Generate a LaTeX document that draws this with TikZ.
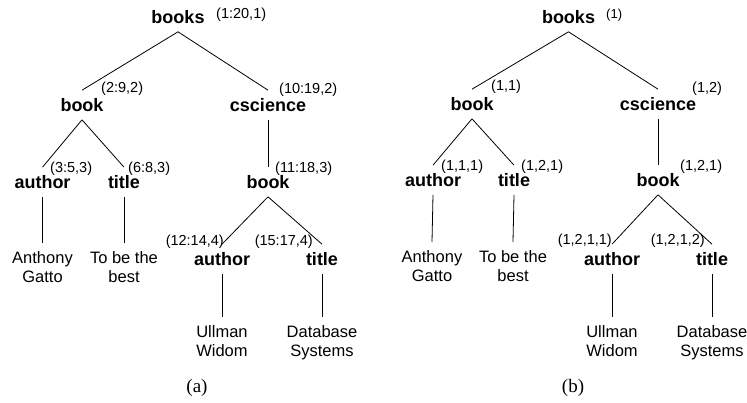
\documentclass[tikz,border=0pt]{standalone}
\usepackage{fontspec}
\setmainfont{Liberation Sans}
\newfontfamily\capfont{Liberation Serif}
\usetikzlibrary{positioning}

\tikzset{
  tag/.style={font=\fontsize{18}{21}\selectfont\bfseries, inner xsep=0pt, inner ysep=8pt},
  idx/.style={font=\fontsize{14.5}{17}\selectfont, inner sep=0pt},
  leaf/.style={font=\fontsize{16.5}{19}\selectfont, align=center, inner xsep=0pt, inner ysep=8.5pt, anchor=north},
  edge/.style={line width=0.8pt, black},
  caption/.style={font=\capfont\fontsize{19}{22}\selectfont, inner sep=0pt}
}

\begin{document}
\begin{tikzpicture}[x=1pt, y=-1pt]
\useasboundingbox (0,0) rectangle (747,403);

% (a) interval numbering
\node[tag] (booksA) at (178,17) {books};
\node[tag] (bookA) at (82,105) {book};
\node[tag] (csA) at (268,105) {cscience};
\node[tag] (authA) at (42.5,182) {author};
\node[tag] (titleA) at (124,182) {title};
\node[tag] (bookB) at (268,182) {book};
\node[tag] (authB) at (222,259) {author};
\node[tag] (titleB) at (322,259) {title};

\node[leaf] (gattoA) at (42.5,243) {Anthony\\Gatto};
\node[leaf] (bestA) at (124,243) {To be the\\best};
\node[leaf] (ullmanA) at (222,317) {Ullman\\Widom};
\node[leaf] (dbA) at (322,317) {Database\\Systems};

\node[idx, anchor=west] (i-booksA) at (216,15) {(1:20,1)};
\node[idx, anchor=west] (i-bookA) at (101,89) {(2:9,2)};
\node[idx, anchor=west] (i-csA) at (279,90) {(10:19,2)};
\node[idx, anchor=west] (i-authA) at (50,169) {(3:5,3)};
\node[idx, anchor=west] (i-titleA) at (128,169) {(6:8,3)};
\node[idx, anchor=west] (i-bookB) at (275,169) {(11:18,3)};
\node[idx, anchor=east] (i-authB) at (224,242) {(12:14,4)};
\node[idx, anchor=east] (i-titleB) at (313,242) {(15:17,4)};

\draw[edge] (booksA.south) -- (bookA.north);
\draw[edge] (booksA.south) -- (csA.north);
\draw[edge] (bookA.south) -- (authA.north);
\draw[edge] (bookA.south) -- (titleA.north);
\draw[edge] (csA.south) -- (bookB.north);
\draw[edge] (bookB.south) -- (authB.north);
\draw[edge] (bookB.south) -- (titleB.north);
\draw[edge] (authA.south) -- (gattoA.north);
\draw[edge] (titleA.south) -- (bestA.north);
\draw[edge] (authB.south) -- (ullmanA.north);
\draw[edge] (titleB.south) -- (dbA.north);

\node[caption] (capA) at (197,388) {(a)};

% (b) Dewey numbering
\node[tag] (booksC) at (568.5,17) {books};
\node[tag] (bookC) at (472,104) {book};
\node[tag] (csC) at (658,104) {cscience};
\node[tag] (authC) at (433,180) {author};
\node[tag] (titleC) at (514,180) {title};
\node[tag] (bookD) at (658,180) {book};
\node[tag] (authD) at (612,259) {author};
\node[tag] (titleD) at (712,259) {title};

\node[leaf] (gattoC) at (432,242) {Anthony\\Gatto};
\node[leaf] (bestC) at (513,242) {To be the\\best};
\node[leaf] (ullmanC) at (612,317) {Ullman\\Widom};
\node[leaf] (dbC) at (712,317) {Database\\Systems};

\node[idx, anchor=west, font=\fontsize{13}{15}\selectfont] (i-booksC) at (606,15) {(1)};
\node[idx, anchor=west] (i-bookC) at (491,87) {(1,1)};
\node[idx, anchor=west] (i-csC) at (692,89) {(1,2)};
\node[idx, anchor=west] (i-authC) at (441,167) {(1,1,1)};
\node[idx, anchor=west] (i-titleC) at (521,167) {(1,2,1)};
\node[idx, anchor=west] (i-bookD) at (680,167) {(1,2,1)};
\node[idx, anchor=east] (i-authD) at (612,241) {(1,2,1,1)};
\node[idx, anchor=east] (i-titleD) at (705,241) {(1,2,1,2)};

\draw[edge] (booksC.south) -- (bookC.north);
\draw[edge] (booksC.south) -- (csC.north);
\draw[edge] (bookC.south) -- (authC.north);
\draw[edge] (bookC.south) -- (titleC.north);
\draw[edge] (csC.south) -- (bookD.north);
\draw[edge] (bookD.south) -- (authD.north);
\draw[edge] (bookD.south) -- (titleD.north);
\draw[edge] (authC.south) -- (gattoC.north);
\draw[edge] (titleC.south) -- (bestC.north);
\draw[edge] (authD.south) -- (ullmanC.north);
\draw[edge] (titleD.south) -- (dbC.north);

\node[caption] (capB) at (573,388) {(b)};

\end{tikzpicture}
\end{document}
